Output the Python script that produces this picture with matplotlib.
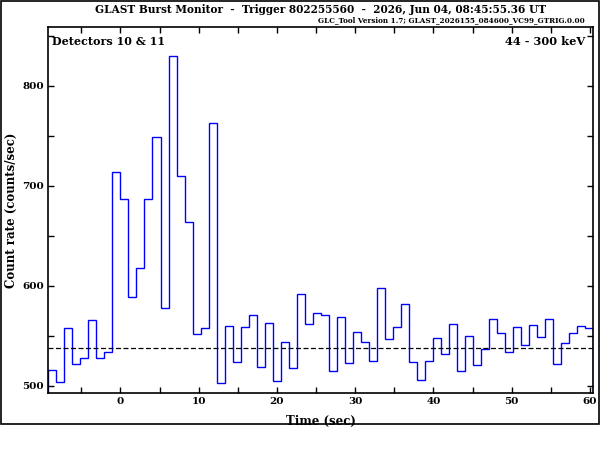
import numpy as np
import matplotlib
matplotlib.use("Agg")
import matplotlib.pyplot as plt
from matplotlib.patches import Rectangle

plt.rcParams['font.family'] = ['DejaVu Serif']
plt.rcParams['font.weight'] = 'bold'
plt.rcParams['axes.labelweight'] = 'bold'

# 1.024 s bins, first bin starts 9 bins before trigger
bin_width = 1.024
first_bin = -9
counts = [516, 504, 558, 522, 528, 566, 528, 534, 714, 687,
          589, 618, 687, 749, 578, 830, 710, 664, 552, 558,
          763, 503, 560, 524, 559, 571, 519, 563, 505, 544,
          518, 592, 562, 573, 571, 515, 569, 523, 554, 544,
          525, 598, 547, 559, 582, 524, 506, 525, 548, 532,
          562, 515, 550, 521, 537, 567, 553, 534, 559, 541,
          561, 549, 567, 522, 543, 553, 560, 558]
background = 538

edges = (first_bin + np.arange(len(counts) + 1)) * bin_width

fig = plt.figure(figsize=(6, 4.5), dpi=100)
ax = fig.add_axes([0.0805, 0.126, 0.9083, 0.8147])

ax.stairs(counts, edges, color='blue', lw=1.0)
ax.axhline(background, color='black', lw=0.9, ls=(0, (4, 2)))

ax.set_xlim(edges[0], edges[-1])
ax.set_ylim(492.7, 859)
ax.set_xticks([0, 10, 20, 30, 40, 50, 60])
ax.set_xticks(np.arange(-5, 61, 5), minor=True)
ax.set_yticks([500, 600, 700, 800])
ax.set_yticks([550, 650, 750, 850], minor=True)
ax.tick_params(which='both', direction='in', top=True, right=True,
               length=4, width=1, labelsize=7.5, pad=3)
for s in ax.spines.values():
    s.set_linewidth(1.2)

ax.set_xlabel('Time (sec)', fontsize=8.5)
ax.set_ylabel('Count rate (counts/sec)', fontsize=8.5)
ax.xaxis.set_label_coords(0.5, -0.058)
ax.yaxis.set_label_coords(-0.056, 0.5)

ax.text(0.006, 0.975, 'Detectors 10 & 11', transform=ax.transAxes,
        ha='left', va='top', fontsize=8)
ax.text(0.985, 0.975, '44 - 300 keV', transform=ax.transAxes,
        ha='right', va='top', fontsize=8.2)

fig.text(0.535, 0.979, 'GLAST Burst Monitor  -  Trigger 802255560  -  2026, Jun 04, 08:45:55.36 UT',
         ha='center', va='center', fontsize=7.6)
fig.text(0.975, 0.955, 'GLC_Tool Version 1.7; GLAST_2026155_084600_VC99_GTRIG.0.00',
         ha='right', va='center', fontsize=5.2)

# outer frame
fig.patches.append(Rectangle((0.002, 1 - 423.5 / 450), 0.996, 423.5 / 450 - 0.002,
                             transform=fig.transFigure, fill=False,
                             edgecolor='black', lw=1.2))

fig.savefig('out.png', dpi=100)
